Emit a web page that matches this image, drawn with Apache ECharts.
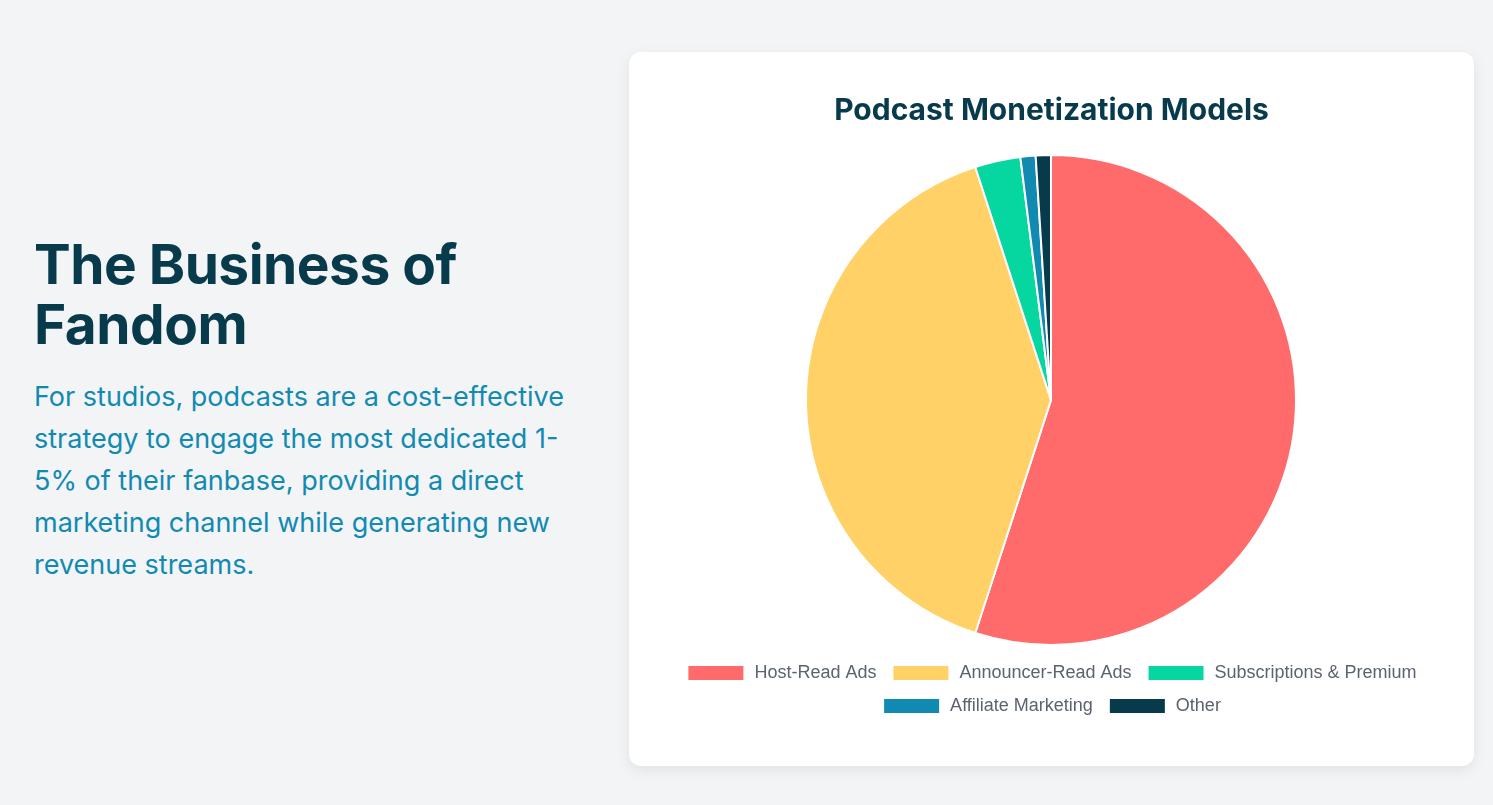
<!DOCTYPE html>
<html>
<head>
<meta charset="utf-8">
<script src="https://cdn.jsdelivr.net/npm/echarts@6/dist/echarts.min.js"></script>
<style>
  html, body { margin: 0; padding: 0; }
  body {
    width: 1493px;
    height: 805px;
    background: #f3f4f6;
    font-family: Inter, "Noto Sans", sans-serif;
    position: relative;
    overflow: hidden;
  }
  .intro {
    position: absolute;
    left: 34px;
    top: 234px;
    width: 545px;
  }
  .intro h2 {
    margin: 0;
    font-size: 55px;
    line-height: 60px;
    font-weight: 700;
    color: #073b4c;
    letter-spacing: -0.5px;
  }
  .intro p {
    margin: 22px 0 0 0;
    font-size: 27px;
    line-height: 42px;
    color: #118ab2;
  }
  .card {
    position: absolute;
    left: 629px;
    top: 52px;
    width: 845px;
    height: 714px;
    background: #fff;
    border-radius: 12px;
    box-shadow: 0 4px 14px rgba(0, 0, 0, 0.08);
  }
  #chart { width: 845px; height: 714px; }
</style>
</head>
<body>
  <div class="intro">
    <h2>The Business of<br>Fandom</h2>
    <p>For studios, podcasts are a cost-effective strategy to engage the most dedicated 1-5% of their fanbase, providing a direct marketing channel while generating new revenue streams.</p>
  </div>
  <div class="card"><div id="chart"></div></div>
<script>
const categories = ["Host-Read Ads", "Announcer-Read Ads", "Subscriptions & Premium", "Affiliate Marketing", "Other"];
const shares = [55, 40, 3, 1, 1];
const colors = ["#ff6b6b", "#ffd166", "#06d6a0", "#118ab2", "#073b4c"];

const myChart = echarts.init(document.getElementById("chart"));

const legendBase = {
  orient: "horizontal",
  left: "center",
  itemWidth: 57,
  itemHeight: 16,
  itemGap: 15,
  icon: "rect",
  textStyle: {
    fontFamily: "Liberation Sans, Arial, sans-serif",
    fontSize: 18,
    color: "#5b6370",
    padding: [0, 0, 0, 5],
  },
};

myChart.setOption({
  title: {
    text: "Podcast Monetization Models",
    left: "center",
    top: 39,
    textStyle: {
      fontFamily: "Inter, sans-serif",
      fontSize: 30,
      fontWeight: 700,
      color: "#073b4c",
    },
  },
  legend: [
    Object.assign({}, legendBase, { top: 607, data: categories.slice(0, 3) }),
    Object.assign({}, legendBase, { top: 640, data: categories.slice(3) }),
  ],
  series: [
    {
      type: "pie",
      center: [422, 348],
      radius: 245,
      startAngle: 90,
      clockwise: true,
      label: { show: false },
      labelLine: { show: false },
      itemStyle: { borderColor: "#fff", borderWidth: 2 },
      emphasis: { scale: false },
      data: categories.map((name, i) => ({
        name: name,
        value: shares[i],
        itemStyle: { color: colors[i] },
      })),
    },
  ],
});
window.addEventListener("resize", myChart.resize);
</script>
</body>
</html>
